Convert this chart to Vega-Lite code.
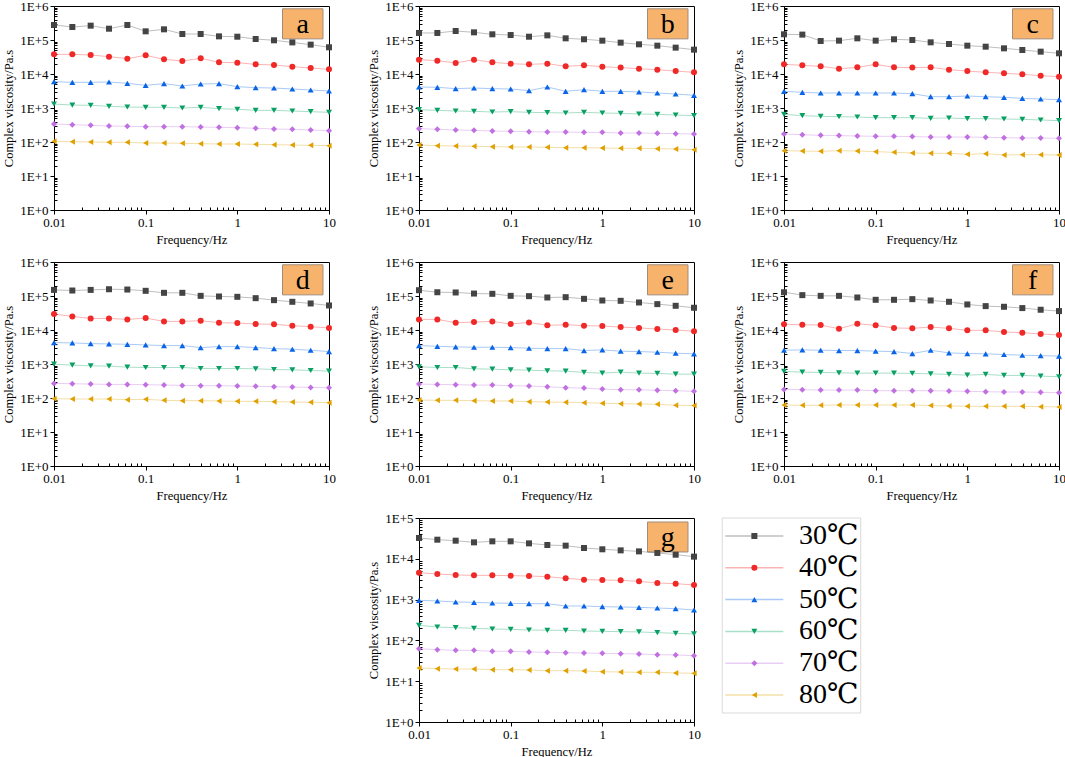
{
  "$schema": "https://vega.github.io/schema/vega-lite/v6.json",
  "background": "white",
  "padding": {"left": 2, "top": -1, "right": 0, "bottom": 0},
  "columns": 3,
  "bounds": "flush",
  "spacing": {"row": 52, "column": 90},
  "config": {
    "font": "Liberation Serif, DejaVu Serif, serif",
    "view": {"stroke": "black", "strokeWidth": 1},
    "text": {"font": "Liberation Serif, DejaVu Serif, serif"},
    "axis": {"grid": false, "domainColor": "black", "domainWidth": 1, "tickColor": "black", "tickWidth": 1, "labelColor": "black", "labelFont": "Liberation Serif, DejaVu Serif, serif", "labelFontSize": 13, "labelPadding": 2, "labelOverlap": false, "titleFont": "Liberation Serif, DejaVu Serif, serif", "titleFontSize": 12.5, "titleFontWeight": "normal", "titleColor": "black", "titlePadding": 4},
    "axisX": {"labelFlush": false}
  },
  "datasets": {
    "visc": [
      {"p":"a","t":30,"f":0.01,"v":276000},{"p":"a","t":30,"f":0.01585,"v":241000},{"p":"a","t":30,"f":0.02512,"v":264000},{"p":"a","t":30,"f":0.03981,"v":215000},{"p":"a","t":30,"f":0.0631,"v":276000},{"p":"a","t":30,"f":0.1,"v":180000},{"p":"a","t":30,"f":0.1585,"v":206000},{"p":"a","t":30,"f":0.2512,"v":150000},{"p":"a","t":30,"f":0.3981,"v":150000},{"p":"a","t":30,"f":0.631,"v":128000},{"p":"a","t":30,"f":1,"v":125000},{"p":"a","t":30,"f":1.585,"v":107000},{"p":"a","t":30,"f":2.512,"v":98000},{"p":"a","t":30,"f":3.981,"v":85000},{"p":"a","t":30,"f":6.31,"v":73000},{"p":"a","t":30,"f":10,"v":61000},
      {"p":"a","t":40,"f":0.01,"v":37800},{"p":"a","t":40,"f":0.01585,"v":37800},{"p":"a","t":40,"f":0.02512,"v":36200},{"p":"a","t":40,"f":0.03981,"v":32400},{"p":"a","t":40,"f":0.0631,"v":28300},{"p":"a","t":40,"f":0.1,"v":35400},{"p":"a","t":40,"f":0.1585,"v":27000},{"p":"a","t":40,"f":0.2512,"v":24100},{"p":"a","t":40,"f":0.3981,"v":28900},{"p":"a","t":40,"f":0.631,"v":22000},{"p":"a","t":40,"f":1,"v":21500},{"p":"a","t":40,"f":1.585,"v":19200},{"p":"a","t":40,"f":2.512,"v":18400},{"p":"a","t":40,"f":3.981,"v":16400},{"p":"a","t":40,"f":6.31,"v":15000},{"p":"a","t":40,"f":10,"v":13700},
      {"p":"a","t":50,"f":0.01,"v":5960},{"p":"a","t":50,"f":0.01585,"v":5690},{"p":"a","t":50,"f":0.02512,"v":5690},{"p":"a","t":50,"f":0.03981,"v":5820},{"p":"a","t":50,"f":0.0631,"v":5310},{"p":"a","t":50,"f":0.1,"v":4640},{"p":"a","t":50,"f":0.1585,"v":5200},{"p":"a","t":50,"f":0.2512,"v":4440},{"p":"a","t":50,"f":0.3981,"v":5080},{"p":"a","t":50,"f":0.631,"v":5200},{"p":"a","t":50,"f":1,"v":4240},{"p":"a","t":50,"f":1.585,"v":3960},{"p":"a","t":50,"f":2.512,"v":3870},{"p":"a","t":50,"f":3.981,"v":3620},{"p":"a","t":50,"f":6.31,"v":3380},{"p":"a","t":50,"f":10,"v":3160},
      {"p":"a","t":60,"f":0.01,"v":1310},{"p":"a","t":60,"f":0.01585,"v":1220},{"p":"a","t":60,"f":0.02512,"v":1200},{"p":"a","t":60,"f":0.03981,"v":1120},{"p":"a","t":60,"f":0.0631,"v":1070},{"p":"a","t":60,"f":0.1,"v":1050},{"p":"a","t":60,"f":0.1585,"v":1050},{"p":"a","t":60,"f":0.2512,"v":1000},{"p":"a","t":60,"f":0.3981,"v":1050},{"p":"a","t":60,"f":0.631,"v":955},{"p":"a","t":60,"f":1,"v":914},{"p":"a","t":60,"f":1.585,"v":853},{"p":"a","t":60,"f":2.512,"v":853},{"p":"a","t":60,"f":3.981,"v":816},{"p":"a","t":60,"f":6.31,"v":780},{"p":"a","t":60,"f":10,"v":746},
      {"p":"a","t":70,"f":0.01,"v":338},{"p":"a","t":70,"f":0.01585,"v":324},{"p":"a","t":70,"f":0.02512,"v":309},{"p":"a","t":70,"f":0.03981,"v":296},{"p":"a","t":70,"f":0.0631,"v":289},{"p":"a","t":70,"f":0.1,"v":283},{"p":"a","t":70,"f":0.1585,"v":283},{"p":"a","t":70,"f":0.2512,"v":283},{"p":"a","t":70,"f":0.3981,"v":276},{"p":"a","t":70,"f":0.631,"v":270},{"p":"a","t":70,"f":1,"v":264},{"p":"a","t":70,"f":1.585,"v":252},{"p":"a","t":70,"f":2.512,"v":241},{"p":"a","t":70,"f":3.981,"v":236},{"p":"a","t":70,"f":6.31,"v":225},{"p":"a","t":70,"f":10,"v":215},
      {"p":"a","t":80,"f":0.01,"v":105},{"p":"a","t":80,"f":0.01585,"v":102},{"p":"a","t":80,"f":0.02512,"v":100},{"p":"a","t":80,"f":0.03981,"v":97.8},{"p":"a","t":80,"f":0.0631,"v":97.8},{"p":"a","t":80,"f":0.1,"v":93.5},{"p":"a","t":80,"f":0.1585,"v":93.5},{"p":"a","t":80,"f":0.2512,"v":91.4},{"p":"a","t":80,"f":0.3981,"v":89.3},{"p":"a","t":80,"f":0.631,"v":87.3},{"p":"a","t":80,"f":1,"v":87.3},{"p":"a","t":80,"f":1.585,"v":85.3},{"p":"a","t":80,"f":2.512,"v":83.5},{"p":"a","t":80,"f":3.981,"v":81.6},{"p":"a","t":80,"f":6.31,"v":79.8},{"p":"a","t":80,"f":10,"v":78},
      {"p":"b","t":30,"f":0.01,"v":161000},{"p":"b","t":30,"f":0.01585,"v":161000},{"p":"b","t":30,"f":0.02512,"v":184000},{"p":"b","t":30,"f":0.03981,"v":168000},{"p":"b","t":30,"f":0.0631,"v":147000},{"p":"b","t":30,"f":0.1,"v":140000},{"p":"b","t":30,"f":0.1585,"v":125000},{"p":"b","t":30,"f":0.2512,"v":137000},{"p":"b","t":30,"f":0.3981,"v":112000},{"p":"b","t":30,"f":0.631,"v":105000},{"p":"b","t":30,"f":1,"v":95600},{"p":"b","t":30,"f":1.585,"v":83500},{"p":"b","t":30,"f":2.512,"v":74600},{"p":"b","t":30,"f":3.981,"v":68100},{"p":"b","t":30,"f":6.31,"v":59600},{"p":"b","t":30,"f":10,"v":52000},
      {"p":"b","t":40,"f":0.01,"v":26400},{"p":"b","t":40,"f":0.01585,"v":24700},{"p":"b","t":40,"f":0.02512,"v":21100},{"p":"b","t":40,"f":0.03981,"v":26400},{"p":"b","t":40,"f":0.0631,"v":22000},{"p":"b","t":40,"f":0.1,"v":20100},{"p":"b","t":40,"f":0.1585,"v":19200},{"p":"b","t":40,"f":0.2512,"v":20100},{"p":"b","t":40,"f":0.3981,"v":16800},{"p":"b","t":40,"f":0.631,"v":18000},{"p":"b","t":40,"f":1,"v":16400},{"p":"b","t":40,"f":1.585,"v":15400},{"p":"b","t":40,"f":2.512,"v":14300},{"p":"b","t":40,"f":3.981,"v":13400},{"p":"b","t":40,"f":6.31,"v":12200},{"p":"b","t":40,"f":10,"v":11200},
      {"p":"b","t":50,"f":0.01,"v":4150},{"p":"b","t":50,"f":0.01585,"v":4060},{"p":"b","t":50,"f":0.02512,"v":3710},{"p":"b","t":50,"f":0.03981,"v":3870},{"p":"b","t":50,"f":0.0631,"v":3710},{"p":"b","t":50,"f":0.1,"v":3620},{"p":"b","t":50,"f":0.1585,"v":3240},{"p":"b","t":50,"f":0.2512,"v":4150},{"p":"b","t":50,"f":0.3981,"v":3090},{"p":"b","t":50,"f":0.631,"v":3460},{"p":"b","t":50,"f":1,"v":3090},{"p":"b","t":50,"f":1.585,"v":3090},{"p":"b","t":50,"f":2.512,"v":2960},{"p":"b","t":50,"f":3.981,"v":2760},{"p":"b","t":50,"f":6.31,"v":2580},{"p":"b","t":50,"f":10,"v":2360},
      {"p":"b","t":60,"f":0.01,"v":893},{"p":"b","t":60,"f":0.01585,"v":853},{"p":"b","t":60,"f":0.02512,"v":816},{"p":"b","t":60,"f":0.03981,"v":798},{"p":"b","t":60,"f":0.0631,"v":762},{"p":"b","t":60,"f":0.1,"v":780},{"p":"b","t":60,"f":0.1585,"v":746},{"p":"b","t":60,"f":0.2512,"v":729},{"p":"b","t":60,"f":0.3981,"v":713},{"p":"b","t":60,"f":0.631,"v":746},{"p":"b","t":60,"f":1,"v":713},{"p":"b","t":60,"f":1.585,"v":697},{"p":"b","t":60,"f":2.512,"v":667},{"p":"b","t":60,"f":3.981,"v":652},{"p":"b","t":60,"f":6.31,"v":622},{"p":"b","t":60,"f":10,"v":596},
      {"p":"b","t":70,"f":0.01,"v":247},{"p":"b","t":70,"f":0.01585,"v":236},{"p":"b","t":70,"f":0.02512,"v":225},{"p":"b","t":70,"f":0.03981,"v":220},{"p":"b","t":70,"f":0.0631,"v":211},{"p":"b","t":70,"f":0.1,"v":206},{"p":"b","t":70,"f":0.1585,"v":201},{"p":"b","t":70,"f":0.2512,"v":197},{"p":"b","t":70,"f":0.3981,"v":197},{"p":"b","t":70,"f":0.631,"v":192},{"p":"b","t":70,"f":1,"v":192},{"p":"b","t":70,"f":1.585,"v":184},{"p":"b","t":70,"f":2.512,"v":184},{"p":"b","t":70,"f":3.981,"v":180},{"p":"b","t":70,"f":6.31,"v":176},{"p":"b","t":70,"f":10,"v":172},
      {"p":"b","t":80,"f":0.01,"v":81.6},{"p":"b","t":80,"f":0.01585,"v":78},{"p":"b","t":80,"f":0.02512,"v":76.2},{"p":"b","t":80,"f":0.03981,"v":74.6},{"p":"b","t":80,"f":0.0631,"v":72.9},{"p":"b","t":80,"f":0.1,"v":71.3},{"p":"b","t":80,"f":0.1585,"v":71.3},{"p":"b","t":80,"f":0.2512,"v":69.7},{"p":"b","t":80,"f":0.3981,"v":68.1},{"p":"b","t":80,"f":0.631,"v":68.1},{"p":"b","t":80,"f":1,"v":66.7},{"p":"b","t":80,"f":1.585,"v":65.2},{"p":"b","t":80,"f":2.512,"v":65.2},{"p":"b","t":80,"f":3.981,"v":63.7},{"p":"b","t":80,"f":6.31,"v":62.2},{"p":"b","t":80,"f":10,"v":59.6},
      {"p":"c","t":30,"f":0.01,"v":147000},{"p":"c","t":30,"f":0.01585,"v":144000},{"p":"c","t":30,"f":0.02512,"v":93500},{"p":"c","t":30,"f":0.03981,"v":95600},{"p":"c","t":30,"f":0.0631,"v":112000},{"p":"c","t":30,"f":0.1,"v":95600},{"p":"c","t":30,"f":0.1585,"v":105000},{"p":"c","t":30,"f":0.2512,"v":100000},{"p":"c","t":30,"f":0.3981,"v":85400},{"p":"c","t":30,"f":0.631,"v":76200},{"p":"c","t":30,"f":1,"v":68100},{"p":"c","t":30,"f":1.585,"v":63600},{"p":"c","t":30,"f":2.512,"v":56900},{"p":"c","t":30,"f":3.981,"v":50800},{"p":"c","t":30,"f":6.31,"v":45400},{"p":"c","t":30,"f":10,"v":40600},
      {"p":"c","t":40,"f":0.01,"v":19200},{"p":"c","t":40,"f":0.01585,"v":18000},{"p":"c","t":40,"f":0.02512,"v":16800},{"p":"c","t":40,"f":0.03981,"v":14300},{"p":"c","t":40,"f":0.0631,"v":15700},{"p":"c","t":40,"f":0.1,"v":19200},{"p":"c","t":40,"f":0.1585,"v":15700},{"p":"c","t":40,"f":0.2512,"v":15400},{"p":"c","t":40,"f":0.3981,"v":15700},{"p":"c","t":40,"f":0.631,"v":13400},{"p":"c","t":40,"f":1,"v":12200},{"p":"c","t":40,"f":1.585,"v":11200},{"p":"c","t":40,"f":2.512,"v":10500},{"p":"c","t":40,"f":3.981,"v":9780},{"p":"c","t":40,"f":6.31,"v":8930},{"p":"c","t":40,"f":10,"v":8350},
      {"p":"c","t":50,"f":0.01,"v":3090},{"p":"c","t":50,"f":0.01585,"v":2890},{"p":"c","t":50,"f":0.02512,"v":2760},{"p":"c","t":50,"f":0.03981,"v":2760},{"p":"c","t":50,"f":0.0631,"v":2760},{"p":"c","t":50,"f":0.1,"v":2760},{"p":"c","t":50,"f":0.1585,"v":2760},{"p":"c","t":50,"f":0.2512,"v":2640},{"p":"c","t":50,"f":0.3981,"v":2150},{"p":"c","t":50,"f":0.631,"v":2150},{"p":"c","t":50,"f":1,"v":2250},{"p":"c","t":50,"f":1.585,"v":2150},{"p":"c","t":50,"f":2.512,"v":2060},{"p":"c","t":50,"f":3.981,"v":1920},{"p":"c","t":50,"f":6.31,"v":1840},{"p":"c","t":50,"f":10,"v":1760},
      {"p":"c","t":60,"f":0.01,"v":652},{"p":"c","t":60,"f":0.01585,"v":596},{"p":"c","t":60,"f":0.02512,"v":569},{"p":"c","t":60,"f":0.03981,"v":556},{"p":"c","t":60,"f":0.0631,"v":543},{"p":"c","t":60,"f":0.1,"v":520},{"p":"c","t":60,"f":0.1585,"v":520},{"p":"c","t":60,"f":0.2512,"v":520},{"p":"c","t":60,"f":0.3981,"v":497},{"p":"c","t":60,"f":0.631,"v":508},{"p":"c","t":60,"f":1,"v":486},{"p":"c","t":60,"f":1.585,"v":486},{"p":"c","t":60,"f":2.512,"v":475},{"p":"c","t":60,"f":3.981,"v":464},{"p":"c","t":60,"f":6.31,"v":444},{"p":"c","t":60,"f":10,"v":424},
      {"p":"c","t":70,"f":0.01,"v":172},{"p":"c","t":70,"f":0.01585,"v":164},{"p":"c","t":70,"f":0.02512,"v":157},{"p":"c","t":70,"f":0.03981,"v":154},{"p":"c","t":70,"f":0.0631,"v":150},{"p":"c","t":70,"f":0.1,"v":147},{"p":"c","t":70,"f":0.1585,"v":147},{"p":"c","t":70,"f":0.2512,"v":144},{"p":"c","t":70,"f":0.3981,"v":140},{"p":"c","t":70,"f":0.631,"v":140},{"p":"c","t":70,"f":1,"v":140},{"p":"c","t":70,"f":1.585,"v":137},{"p":"c","t":70,"f":2.512,"v":134},{"p":"c","t":70,"f":3.981,"v":131},{"p":"c","t":70,"f":6.31,"v":131},{"p":"c","t":70,"f":10,"v":128},
      {"p":"c","t":80,"f":0.01,"v":55.6},{"p":"c","t":80,"f":0.01585,"v":54.3},{"p":"c","t":80,"f":0.02512,"v":53.1},{"p":"c","t":80,"f":0.03981,"v":55.6},{"p":"c","t":80,"f":0.0631,"v":54.3},{"p":"c","t":80,"f":0.1,"v":52},{"p":"c","t":80,"f":0.1585,"v":49.7},{"p":"c","t":80,"f":0.2512,"v":47.5},{"p":"c","t":80,"f":0.3981,"v":46.4},{"p":"c","t":80,"f":0.631,"v":46.4},{"p":"c","t":80,"f":1,"v":43.3},{"p":"c","t":80,"f":1.585,"v":45.4},{"p":"c","t":80,"f":2.512,"v":41.5},{"p":"c","t":80,"f":3.981,"v":42.4},{"p":"c","t":80,"f":6.31,"v":42.4},{"p":"c","t":80,"f":10,"v":41.5},
      {"p":"d","t":30,"f":0.01,"v":151000},{"p":"d","t":30,"f":0.01585,"v":145000},{"p":"d","t":30,"f":0.02512,"v":151000},{"p":"d","t":30,"f":0.03981,"v":158000},{"p":"d","t":30,"f":0.0631,"v":155000},{"p":"d","t":30,"f":0.1,"v":142000},{"p":"d","t":30,"f":0.1585,"v":124000},{"p":"d","t":30,"f":0.2512,"v":124000},{"p":"d","t":30,"f":0.3981,"v":101000},{"p":"d","t":30,"f":0.631,"v":96700},{"p":"d","t":30,"f":1,"v":94600},{"p":"d","t":30,"f":1.585,"v":86400},{"p":"d","t":30,"f":2.512,"v":75500},{"p":"d","t":30,"f":3.981,"v":67500},{"p":"d","t":30,"f":6.31,"v":60300},{"p":"d","t":30,"f":10,"v":52700},
      {"p":"d","t":40,"f":0.01,"v":29400},{"p":"d","t":40,"f":0.01585,"v":25100},{"p":"d","t":40,"f":0.02512,"v":21900},{"p":"d","t":40,"f":0.03981,"v":21900},{"p":"d","t":40,"f":0.0631,"v":20500},{"p":"d","t":40,"f":0.1,"v":22400},{"p":"d","t":40,"f":0.1585,"v":17900},{"p":"d","t":40,"f":0.2512,"v":17900},{"p":"d","t":40,"f":0.3981,"v":18800},{"p":"d","t":40,"f":0.631,"v":16400},{"p":"d","t":40,"f":1,"v":16000},{"p":"d","t":40,"f":1.585,"v":15000},{"p":"d","t":40,"f":2.512,"v":14700},{"p":"d","t":40,"f":3.981,"v":13400},{"p":"d","t":40,"f":6.31,"v":12500},{"p":"d","t":40,"f":10,"v":11500},
      {"p":"d","t":50,"f":0.01,"v":4260},{"p":"d","t":50,"f":0.01585,"v":4170},{"p":"d","t":50,"f":0.02512,"v":3980},{"p":"d","t":50,"f":0.03981,"v":3890},{"p":"d","t":50,"f":0.0631,"v":3800},{"p":"d","t":50,"f":0.1,"v":3640},{"p":"d","t":50,"f":0.1585,"v":3480},{"p":"d","t":50,"f":0.2512,"v":3480},{"p":"d","t":50,"f":0.3981,"v":3040},{"p":"d","t":50,"f":0.631,"v":3250},{"p":"d","t":50,"f":1,"v":3250},{"p":"d","t":50,"f":1.585,"v":3040},{"p":"d","t":50,"f":2.512,"v":2840},{"p":"d","t":50,"f":3.981,"v":2720},{"p":"d","t":50,"f":6.31,"v":2540},{"p":"d","t":50,"f":10,"v":2320},
      {"p":"d","t":60,"f":0.01,"v":988},{"p":"d","t":60,"f":0.01585,"v":924},{"p":"d","t":60,"f":0.02512,"v":884},{"p":"d","t":60,"f":0.03981,"v":864},{"p":"d","t":60,"f":0.0631,"v":807},{"p":"d","t":60,"f":0.1,"v":790},{"p":"d","t":60,"f":0.1585,"v":790},{"p":"d","t":60,"f":0.2512,"v":790},{"p":"d","t":60,"f":0.3981,"v":738},{"p":"d","t":60,"f":0.631,"v":738},{"p":"d","t":60,"f":1,"v":738},{"p":"d","t":60,"f":1.585,"v":722},{"p":"d","t":60,"f":2.512,"v":690},{"p":"d","t":60,"f":3.981,"v":675},{"p":"d","t":60,"f":6.31,"v":645},{"p":"d","t":60,"f":10,"v":617},
      {"p":"d","t":70,"f":0.01,"v":269},{"p":"d","t":70,"f":0.01585,"v":263},{"p":"d","t":70,"f":0.02512,"v":257},{"p":"d","t":70,"f":0.03981,"v":251},{"p":"d","t":70,"f":0.0631,"v":251},{"p":"d","t":70,"f":0.1,"v":246},{"p":"d","t":70,"f":0.1585,"v":240},{"p":"d","t":70,"f":0.2512,"v":235},{"p":"d","t":70,"f":0.3981,"v":230},{"p":"d","t":70,"f":0.631,"v":230},{"p":"d","t":70,"f":1,"v":225},{"p":"d","t":70,"f":1.585,"v":220},{"p":"d","t":70,"f":2.512,"v":215},{"p":"d","t":70,"f":3.981,"v":210},{"p":"d","t":70,"f":6.31,"v":205},{"p":"d","t":70,"f":10,"v":201},
      {"p":"d","t":80,"f":0.01,"v":95.5},{"p":"d","t":80,"f":0.01585,"v":93.4},{"p":"d","t":80,"f":0.02512,"v":93.4},{"p":"d","t":80,"f":0.03981,"v":93.4},{"p":"d","t":80,"f":0.0631,"v":89.3},{"p":"d","t":80,"f":0.1,"v":91.3},{"p":"d","t":80,"f":0.1585,"v":85.4},{"p":"d","t":80,"f":0.2512,"v":83.5},{"p":"d","t":80,"f":0.3981,"v":83.5},{"p":"d","t":80,"f":0.631,"v":81.7},{"p":"d","t":80,"f":1,"v":79.8},{"p":"d","t":80,"f":1.585,"v":79.8},{"p":"d","t":80,"f":2.512,"v":78.1},{"p":"d","t":80,"f":3.981,"v":76.4},{"p":"d","t":80,"f":6.31,"v":74.7},{"p":"d","t":80,"f":10,"v":73},
      {"p":"e","t":30,"f":0.01,"v":148000},{"p":"e","t":30,"f":0.01585,"v":129000},{"p":"e","t":30,"f":0.02512,"v":127000},{"p":"e","t":30,"f":0.03981,"v":118000},{"p":"e","t":30,"f":0.0631,"v":116000},{"p":"e","t":30,"f":0.1,"v":101000},{"p":"e","t":30,"f":0.1585,"v":98900},{"p":"e","t":30,"f":0.2512,"v":90400},{"p":"e","t":30,"f":0.3981,"v":92400},{"p":"e","t":30,"f":0.631,"v":82600},{"p":"e","t":30,"f":1,"v":73800},{"p":"e","t":30,"f":1.585,"v":72200},{"p":"e","t":30,"f":2.512,"v":64500},{"p":"e","t":30,"f":3.981,"v":57700},{"p":"e","t":30,"f":6.31,"v":51500},{"p":"e","t":30,"f":10,"v":45100},
      {"p":"e","t":40,"f":0.01,"v":20500},{"p":"e","t":40,"f":0.01585,"v":20500},{"p":"e","t":40,"f":0.02512,"v":16400},{"p":"e","t":40,"f":0.03981,"v":17100},{"p":"e","t":40,"f":0.0631,"v":17900},{"p":"e","t":40,"f":0.1,"v":15000},{"p":"e","t":40,"f":0.1585,"v":16700},{"p":"e","t":40,"f":0.2512,"v":13700},{"p":"e","t":40,"f":0.3981,"v":14300},{"p":"e","t":40,"f":0.631,"v":13400},{"p":"e","t":40,"f":1,"v":13100},{"p":"e","t":40,"f":1.585,"v":12200},{"p":"e","t":40,"f":2.512,"v":11500},{"p":"e","t":40,"f":3.981,"v":10700},{"p":"e","t":40,"f":6.31,"v":10000},{"p":"e","t":40,"f":10,"v":9140},
      {"p":"e","t":50,"f":0.01,"v":3480},{"p":"e","t":50,"f":0.01585,"v":3320},{"p":"e","t":50,"f":0.02512,"v":3180},{"p":"e","t":50,"f":0.03981,"v":3110},{"p":"e","t":50,"f":0.0631,"v":3110},{"p":"e","t":50,"f":0.1,"v":3040},{"p":"e","t":50,"f":0.1585,"v":2910},{"p":"e","t":50,"f":0.2512,"v":2840},{"p":"e","t":50,"f":0.3981,"v":2840},{"p":"e","t":50,"f":0.631,"v":2490},{"p":"e","t":50,"f":1,"v":2600},{"p":"e","t":50,"f":1.585,"v":2380},{"p":"e","t":50,"f":2.512,"v":2320},{"p":"e","t":50,"f":3.981,"v":2220},{"p":"e","t":50,"f":6.31,"v":2080},{"p":"e","t":50,"f":10,"v":1990},
      {"p":"e","t":60,"f":0.01,"v":826},{"p":"e","t":60,"f":0.01585,"v":790},{"p":"e","t":60,"f":0.02512,"v":790},{"p":"e","t":60,"f":0.03981,"v":722},{"p":"e","t":60,"f":0.0631,"v":706},{"p":"e","t":60,"f":0.1,"v":675},{"p":"e","t":60,"f":0.1585,"v":660},{"p":"e","t":60,"f":0.2512,"v":631},{"p":"e","t":60,"f":0.3981,"v":617},{"p":"e","t":60,"f":0.631,"v":564},{"p":"e","t":60,"f":1,"v":539},{"p":"e","t":60,"f":1.585,"v":577},{"p":"e","t":60,"f":2.512,"v":539},{"p":"e","t":60,"f":3.981,"v":527},{"p":"e","t":60,"f":6.31,"v":504},{"p":"e","t":60,"f":10,"v":504},
      {"p":"e","t":70,"f":0.01,"v":257},{"p":"e","t":70,"f":0.01585,"v":251},{"p":"e","t":70,"f":0.02512,"v":246},{"p":"e","t":70,"f":0.03981,"v":240},{"p":"e","t":70,"f":0.0631,"v":240},{"p":"e","t":70,"f":0.1,"v":230},{"p":"e","t":70,"f":0.1585,"v":225},{"p":"e","t":70,"f":0.2512,"v":215},{"p":"e","t":70,"f":0.3981,"v":201},{"p":"e","t":70,"f":0.631,"v":196},{"p":"e","t":70,"f":1,"v":183},{"p":"e","t":70,"f":1.585,"v":175},{"p":"e","t":70,"f":2.512,"v":175},{"p":"e","t":70,"f":3.981,"v":168},{"p":"e","t":70,"f":6.31,"v":164},{"p":"e","t":70,"f":10,"v":157},
      {"p":"e","t":80,"f":0.01,"v":87.3},{"p":"e","t":80,"f":0.01585,"v":85.4},{"p":"e","t":80,"f":0.02512,"v":85.4},{"p":"e","t":80,"f":0.03981,"v":83.5},{"p":"e","t":80,"f":0.0631,"v":81.7},{"p":"e","t":80,"f":0.1,"v":81.7},{"p":"e","t":80,"f":0.1585,"v":78.1},{"p":"e","t":80,"f":0.2512,"v":76.4},{"p":"e","t":80,"f":0.3981,"v":74.7},{"p":"e","t":80,"f":0.631,"v":73},{"p":"e","t":80,"f":1,"v":69.8},{"p":"e","t":80,"f":1.585,"v":68.2},{"p":"e","t":80,"f":2.512,"v":66.7},{"p":"e","t":80,"f":3.981,"v":65.3},{"p":"e","t":80,"f":6.31,"v":61},{"p":"e","t":80,"f":10,"v":59.7},
      {"p":"f","t":30,"f":0.01,"v":129000},{"p":"f","t":30,"f":0.01585,"v":106000},{"p":"f","t":30,"f":0.02512,"v":101000},{"p":"f","t":30,"f":0.03981,"v":101000},{"p":"f","t":30,"f":0.0631,"v":90400},{"p":"f","t":30,"f":0.1,"v":77300},{"p":"f","t":30,"f":0.1585,"v":77300},{"p":"f","t":30,"f":0.2512,"v":80800},{"p":"f","t":30,"f":0.3981,"v":73800},{"p":"f","t":30,"f":0.631,"v":67500},{"p":"f","t":30,"f":1,"v":56400},{"p":"f","t":30,"f":1.585,"v":50400},{"p":"f","t":30,"f":2.512,"v":48200},{"p":"f","t":30,"f":3.981,"v":44100},{"p":"f","t":30,"f":6.31,"v":39400},{"p":"f","t":30,"f":10,"v":36000},
      {"p":"f","t":40,"f":0.01,"v":14700},{"p":"f","t":40,"f":0.01585,"v":14300},{"p":"f","t":40,"f":0.02512,"v":14000},{"p":"f","t":40,"f":0.03981,"v":10900},{"p":"f","t":40,"f":0.0631,"v":15300},{"p":"f","t":40,"f":0.1,"v":13700},{"p":"f","t":40,"f":0.1585,"v":11500},{"p":"f","t":40,"f":0.2512,"v":11200},{"p":"f","t":40,"f":0.3981,"v":12200},{"p":"f","t":40,"f":0.631,"v":11200},{"p":"f","t":40,"f":1,"v":9780},{"p":"f","t":40,"f":1.585,"v":9780},{"p":"f","t":40,"f":2.512,"v":8740},{"p":"f","t":40,"f":3.981,"v":8350},{"p":"f","t":40,"f":6.31,"v":7640},{"p":"f","t":40,"f":10,"v":7140},
      {"p":"f","t":50,"f":0.01,"v":2540},{"p":"f","t":50,"f":0.01585,"v":2600},{"p":"f","t":50,"f":0.02512,"v":2540},{"p":"f","t":50,"f":0.03981,"v":2490},{"p":"f","t":50,"f":0.0631,"v":2490},{"p":"f","t":50,"f":0.1,"v":2380},{"p":"f","t":50,"f":0.1585,"v":2320},{"p":"f","t":50,"f":0.2512,"v":2030},{"p":"f","t":50,"f":0.3981,"v":2540},{"p":"f","t":50,"f":0.631,"v":2120},{"p":"f","t":50,"f":1,"v":2030},{"p":"f","t":50,"f":1.585,"v":1990},{"p":"f","t":50,"f":2.512,"v":1900},{"p":"f","t":50,"f":3.981,"v":1810},{"p":"f","t":50,"f":6.31,"v":1770},{"p":"f","t":50,"f":10,"v":1700},
      {"p":"f","t":60,"f":0.01,"v":603},{"p":"f","t":60,"f":0.01585,"v":577},{"p":"f","t":60,"f":0.02512,"v":564},{"p":"f","t":60,"f":0.03981,"v":551},{"p":"f","t":60,"f":0.0631,"v":539},{"p":"f","t":60,"f":0.1,"v":539},{"p":"f","t":60,"f":0.1585,"v":539},{"p":"f","t":60,"f":0.2512,"v":527},{"p":"f","t":60,"f":0.3981,"v":515},{"p":"f","t":60,"f":0.631,"v":493},{"p":"f","t":60,"f":1,"v":471},{"p":"f","t":60,"f":1.585,"v":493},{"p":"f","t":60,"f":2.512,"v":461},{"p":"f","t":60,"f":3.981,"v":461},{"p":"f","t":60,"f":6.31,"v":441},{"p":"f","t":60,"f":10,"v":421},
      {"p":"f","t":70,"f":0.01,"v":179},{"p":"f","t":70,"f":0.01585,"v":175},{"p":"f","t":70,"f":0.02512,"v":171},{"p":"f","t":70,"f":0.03981,"v":171},{"p":"f","t":70,"f":0.0631,"v":171},{"p":"f","t":70,"f":0.1,"v":164},{"p":"f","t":70,"f":0.1585,"v":164},{"p":"f","t":70,"f":0.2512,"v":164},{"p":"f","t":70,"f":0.3981,"v":164},{"p":"f","t":70,"f":0.631,"v":160},{"p":"f","t":70,"f":1,"v":157},{"p":"f","t":70,"f":1.585,"v":153},{"p":"f","t":70,"f":2.512,"v":150},{"p":"f","t":70,"f":3.981,"v":150},{"p":"f","t":70,"f":6.31,"v":147},{"p":"f","t":70,"f":10,"v":143},
      {"p":"f","t":80,"f":0.01,"v":62.4},{"p":"f","t":80,"f":0.01585,"v":61},{"p":"f","t":80,"f":0.02512,"v":61},{"p":"f","t":80,"f":0.03981,"v":62.4},{"p":"f","t":80,"f":0.0631,"v":62.4},{"p":"f","t":80,"f":0.1,"v":62.4},{"p":"f","t":80,"f":0.1585,"v":62.4},{"p":"f","t":80,"f":0.2512,"v":62.4},{"p":"f","t":80,"f":0.3981,"v":59.7},{"p":"f","t":80,"f":0.631,"v":58.3},{"p":"f","t":80,"f":1,"v":57},{"p":"f","t":80,"f":1.585,"v":57},{"p":"f","t":80,"f":2.512,"v":57},{"p":"f","t":80,"f":3.981,"v":57},{"p":"f","t":80,"f":6.31,"v":55.7},{"p":"f","t":80,"f":10,"v":54.5},
      {"p":"g","t":30,"f":0.01,"v":32400},{"p":"g","t":30,"f":0.01585,"v":29400},{"p":"g","t":30,"f":0.02512,"v":27800},{"p":"g","t":30,"f":0.03981,"v":25300},{"p":"g","t":30,"f":0.0631,"v":26800},{"p":"g","t":30,"f":0.1,"v":26800},{"p":"g","t":30,"f":0.1585,"v":23900},{"p":"g","t":30,"f":0.2512,"v":21800},{"p":"g","t":30,"f":0.3981,"v":21000},{"p":"g","t":30,"f":0.631,"v":18400},{"p":"g","t":30,"f":1,"v":17100},{"p":"g","t":30,"f":1.585,"v":16100},{"p":"g","t":30,"f":2.512,"v":15200},{"p":"g","t":30,"f":3.981,"v":13900},{"p":"g","t":30,"f":6.31,"v":12600},{"p":"g","t":30,"f":10,"v":11300},
      {"p":"g","t":40,"f":0.01,"v":4570},{"p":"g","t":40,"f":0.01585,"v":4240},{"p":"g","t":40,"f":0.02512,"v":4010},{"p":"g","t":40,"f":0.03981,"v":3930},{"p":"g","t":40,"f":0.0631,"v":3930},{"p":"g","t":40,"f":0.1,"v":3860},{"p":"g","t":40,"f":0.1585,"v":3790},{"p":"g","t":40,"f":0.2512,"v":3650},{"p":"g","t":40,"f":0.3981,"v":3320},{"p":"g","t":40,"f":0.631,"v":3080},{"p":"g","t":40,"f":1,"v":3020},{"p":"g","t":40,"f":1.585,"v":2970},{"p":"g","t":40,"f":2.512,"v":2800},{"p":"g","t":40,"f":3.981,"v":2550},{"p":"g","t":40,"f":6.31,"v":2460},{"p":"g","t":40,"f":10,"v":2280},
      {"p":"g","t":50,"f":0.01,"v":960},{"p":"g","t":50,"f":0.01585,"v":925},{"p":"g","t":50,"f":0.02512,"v":874},{"p":"g","t":50,"f":0.03981,"v":858},{"p":"g","t":50,"f":0.0631,"v":826},{"p":"g","t":50,"f":0.1,"v":810},{"p":"g","t":50,"f":0.1585,"v":795},{"p":"g","t":50,"f":0.2512,"v":795},{"p":"g","t":50,"f":0.3981,"v":697},{"p":"g","t":50,"f":0.631,"v":697},{"p":"g","t":50,"f":1,"v":671},{"p":"g","t":50,"f":1.585,"v":659},{"p":"g","t":50,"f":2.512,"v":646},{"p":"g","t":50,"f":3.981,"v":622},{"p":"g","t":50,"f":6.31,"v":600},{"p":"g","t":50,"f":10,"v":556},
      {"p":"g","t":60,"f":0.01,"v":234},{"p":"g","t":60,"f":0.01585,"v":213},{"p":"g","t":60,"f":0.02512,"v":205},{"p":"g","t":60,"f":0.03981,"v":198},{"p":"g","t":60,"f":0.0631,"v":190},{"p":"g","t":60,"f":0.1,"v":187},{"p":"g","t":60,"f":0.1585,"v":180},{"p":"g","t":60,"f":0.2512,"v":177},{"p":"g","t":60,"f":0.3981,"v":177},{"p":"g","t":60,"f":0.631,"v":170},{"p":"g","t":60,"f":1,"v":167},{"p":"g","t":60,"f":1.585,"v":164},{"p":"g","t":60,"f":2.512,"v":161},{"p":"g","t":60,"f":3.981,"v":155},{"p":"g","t":60,"f":6.31,"v":149},{"p":"g","t":60,"f":10,"v":144},
      {"p":"g","t":70,"f":0.01,"v":62.7},{"p":"g","t":70,"f":0.01585,"v":59.3},{"p":"g","t":70,"f":0.02512,"v":57.1},{"p":"g","t":70,"f":0.03981,"v":57.1},{"p":"g","t":70,"f":0.0631,"v":54},{"p":"g","t":70,"f":0.1,"v":54},{"p":"g","t":70,"f":0.1585,"v":52},{"p":"g","t":70,"f":0.2512,"v":51.1},{"p":"g","t":70,"f":0.3981,"v":50.1},{"p":"g","t":70,"f":0.631,"v":49.1},{"p":"g","t":70,"f":1,"v":48.2},{"p":"g","t":70,"f":1.585,"v":47.3},{"p":"g","t":70,"f":2.512,"v":46.4},{"p":"g","t":70,"f":3.981,"v":44.7},{"p":"g","t":70,"f":6.31,"v":43.9},{"p":"g","t":70,"f":10,"v":42.3},
      {"p":"g","t":80,"f":0.01,"v":21.1},{"p":"g","t":80,"f":0.01585,"v":20.3},{"p":"g","t":80,"f":0.02512,"v":19.9},{"p":"g","t":80,"f":0.03981,"v":19.9},{"p":"g","t":80,"f":0.0631,"v":19.2},{"p":"g","t":80,"f":0.1,"v":19.2},{"p":"g","t":80,"f":0.1585,"v":18.8},{"p":"g","t":80,"f":0.2512,"v":18.1},{"p":"g","t":80,"f":0.3981,"v":18.1},{"p":"g","t":80,"f":0.631,"v":17.8},{"p":"g","t":80,"f":1,"v":17.1},{"p":"g","t":80,"f":1.585,"v":16.8},{"p":"g","t":80,"f":2.512,"v":16.5},{"p":"g","t":80,"f":3.981,"v":16.5},{"p":"g","t":80,"f":6.31,"v":15.9},{"p":"g","t":80,"f":10,"v":15.6}
    ]
  },
  "concat": [
    {
      "width": 275, "height": 204,
      "layer": [
        {"data": {"values": [{"lab": "a"}]}, "mark": {"type": "rect", "fill": "#F7B36B", "stroke": "#A08C7A", "strokeWidth": 1}, "encoding": {
          "x": {"datum": 3.11, "type": "quantitative", "scale": {"type": "log", "domain": [0.01, 10], "nice": false}, "axis": {"title": "Frequency/Hz", "values": [0.01,0.02,0.03,0.04,0.05,0.06,0.07,0.08,0.09,0.1,0.2,0.3,0.4,0.5,0.6,0.7,0.8,0.9,1,2,3,4,5,6,7,8,9,10], "format": "~g", "labelExpr": "abs(log(datum.value)/LN10-round(log(datum.value)/LN10))<0.001 ? datum.label : ''", "tickSize": {"condition": {"test": "abs(log(datum.value)/LN10-round(log(datum.value)/LN10))<0.001", "value": 4}, "value": -3}}},
          "x2": {"datum": 8.6},
          "y": {"datum": 828000, "type": "quantitative", "scale": {"type": "log", "domain": [1, 1000000], "nice": false}, "axis": {"title": "Complex viscosity/Pa.s", "values": [1,2,3,4,5,6,7,8,9,10,20,30,40,50,60,70,80,90,100,200,300,400,500,600,700,800,900,1000,2000,3000,4000,5000,6000,7000,8000,9000,10000,20000,30000,40000,50000,60000,70000,80000,90000,100000,200000,300000,400000,500000,600000,700000,800000,900000,1000000], "labelExpr": "abs(log(datum.value)/LN10-round(log(datum.value)/LN10))<0.001 ? '1E+' + round(log(datum.value)/LN10) : ''", "tickSize": {"condition": {"test": "abs(log(datum.value)/LN10-round(log(datum.value)/LN10))<0.001", "value": 4}, "value": -3}}},
          "y2": {"datum": 108000}}},
        {
          "data": {"name": "visc"}, "transform": [{"filter": "datum.p == 'a'"}],
          "encoding": {
            "x": {"field": "f", "type": "quantitative", "scale": {"type": "log", "domain": [0.01, 10], "nice": false}, "axis": {"title": "Frequency/Hz", "values": [0.01,0.02,0.03,0.04,0.05,0.06,0.07,0.08,0.09,0.1,0.2,0.3,0.4,0.5,0.6,0.7,0.8,0.9,1,2,3,4,5,6,7,8,9,10], "format": "~g", "labelExpr": "abs(log(datum.value)/LN10-round(log(datum.value)/LN10))<0.001 ? datum.label : ''", "tickSize": {"condition": {"test": "abs(log(datum.value)/LN10-round(log(datum.value)/LN10))<0.001", "value": 4}, "value": -3}}},
            "y": {"field": "v", "type": "quantitative", "scale": {"type": "log", "domain": [1, 1000000], "nice": false}, "axis": {"title": "Complex viscosity/Pa.s", "values": [1,2,3,4,5,6,7,8,9,10,20,30,40,50,60,70,80,90,100,200,300,400,500,600,700,800,900,1000,2000,3000,4000,5000,6000,7000,8000,9000,10000,20000,30000,40000,50000,60000,70000,80000,90000,100000,200000,300000,400000,500000,600000,700000,800000,900000,1000000], "labelExpr": "abs(log(datum.value)/LN10-round(log(datum.value)/LN10))<0.001 ? '1E+' + round(log(datum.value)/LN10) : ''", "tickSize": {"condition": {"test": "abs(log(datum.value)/LN10-round(log(datum.value)/LN10))<0.001", "value": 4}, "value": -3}}},
            "color": {"field": "t", "type": "nominal", "scale": {"domain": [30,40,50,60,70,80], "range": ["#444444","#f02828","#0a64e6","#0aa064","#c070e0","#e0a000"]}, "legend": null}
          },
          "layer": [
            {"mark": {"type": "line", "strokeWidth": 1, "opacity": 0.35}},
            {"mark": {"type": "point", "filled": true, "size": 36, "opacity": 1}, "encoding": {"shape": {"field": "t", "type": "nominal", "scale": {"domain": [30,40,50,60,70,80], "range": ["square","circle","triangle-up","triangle-down","diamond","triangle-left"]}, "legend": null}}}
          ]
        },
        {"data": {"values": [{"lab": "a"}]}, "mark": {"type": "text", "fontSize": 28, "baseline": "alphabetic", "dy": -5.5, "color": "black"}, "encoding": {
          "x": {"datum": 5.17, "type": "quantitative", "scale": {"type": "log", "domain": [0.01, 10], "nice": false}, "axis": {"title": "Frequency/Hz", "values": [0.01,0.02,0.03,0.04,0.05,0.06,0.07,0.08,0.09,0.1,0.2,0.3,0.4,0.5,0.6,0.7,0.8,0.9,1,2,3,4,5,6,7,8,9,10], "format": "~g", "labelExpr": "abs(log(datum.value)/LN10-round(log(datum.value)/LN10))<0.001 ? datum.label : ''", "tickSize": {"condition": {"test": "abs(log(datum.value)/LN10-round(log(datum.value)/LN10))<0.001", "value": 4}, "value": -3}}},
          "y": {"datum": 108000, "type": "quantitative", "scale": {"type": "log", "domain": [1, 1000000], "nice": false}, "axis": {"title": "Complex viscosity/Pa.s", "values": [1,2,3,4,5,6,7,8,9,10,20,30,40,50,60,70,80,90,100,200,300,400,500,600,700,800,900,1000,2000,3000,4000,5000,6000,7000,8000,9000,10000,20000,30000,40000,50000,60000,70000,80000,90000,100000,200000,300000,400000,500000,600000,700000,800000,900000,1000000], "labelExpr": "abs(log(datum.value)/LN10-round(log(datum.value)/LN10))<0.001 ? '1E+' + round(log(datum.value)/LN10) : ''", "tickSize": {"condition": {"test": "abs(log(datum.value)/LN10-round(log(datum.value)/LN10))<0.001", "value": 4}, "value": -3}}},
          "text": {"field": "lab"}}}
      ]
    },
    {
      "width": 275, "height": 204,
      "layer": [
        {"data": {"values": [{"lab": "b"}]}, "mark": {"type": "rect", "fill": "#F7B36B", "stroke": "#A08C7A", "strokeWidth": 1}, "encoding": {
          "x": {"datum": 3.11, "type": "quantitative", "scale": {"type": "log", "domain": [0.01, 10], "nice": false}, "axis": {"title": "Frequency/Hz", "values": [0.01,0.02,0.03,0.04,0.05,0.06,0.07,0.08,0.09,0.1,0.2,0.3,0.4,0.5,0.6,0.7,0.8,0.9,1,2,3,4,5,6,7,8,9,10], "format": "~g", "labelExpr": "abs(log(datum.value)/LN10-round(log(datum.value)/LN10))<0.001 ? datum.label : ''", "tickSize": {"condition": {"test": "abs(log(datum.value)/LN10-round(log(datum.value)/LN10))<0.001", "value": 4}, "value": -3}}},
          "x2": {"datum": 8.6},
          "y": {"datum": 828000, "type": "quantitative", "scale": {"type": "log", "domain": [1, 1000000], "nice": false}, "axis": {"title": "Complex viscosity/Pa.s", "values": [1,2,3,4,5,6,7,8,9,10,20,30,40,50,60,70,80,90,100,200,300,400,500,600,700,800,900,1000,2000,3000,4000,5000,6000,7000,8000,9000,10000,20000,30000,40000,50000,60000,70000,80000,90000,100000,200000,300000,400000,500000,600000,700000,800000,900000,1000000], "labelExpr": "abs(log(datum.value)/LN10-round(log(datum.value)/LN10))<0.001 ? '1E+' + round(log(datum.value)/LN10) : ''", "tickSize": {"condition": {"test": "abs(log(datum.value)/LN10-round(log(datum.value)/LN10))<0.001", "value": 4}, "value": -3}}},
          "y2": {"datum": 108000}}},
        {
          "data": {"name": "visc"}, "transform": [{"filter": "datum.p == 'b'"}],
          "encoding": {
            "x": {"field": "f", "type": "quantitative", "scale": {"type": "log", "domain": [0.01, 10], "nice": false}, "axis": {"title": "Frequency/Hz", "values": [0.01,0.02,0.03,0.04,0.05,0.06,0.07,0.08,0.09,0.1,0.2,0.3,0.4,0.5,0.6,0.7,0.8,0.9,1,2,3,4,5,6,7,8,9,10], "format": "~g", "labelExpr": "abs(log(datum.value)/LN10-round(log(datum.value)/LN10))<0.001 ? datum.label : ''", "tickSize": {"condition": {"test": "abs(log(datum.value)/LN10-round(log(datum.value)/LN10))<0.001", "value": 4}, "value": -3}}},
            "y": {"field": "v", "type": "quantitative", "scale": {"type": "log", "domain": [1, 1000000], "nice": false}, "axis": {"title": "Complex viscosity/Pa.s", "values": [1,2,3,4,5,6,7,8,9,10,20,30,40,50,60,70,80,90,100,200,300,400,500,600,700,800,900,1000,2000,3000,4000,5000,6000,7000,8000,9000,10000,20000,30000,40000,50000,60000,70000,80000,90000,100000,200000,300000,400000,500000,600000,700000,800000,900000,1000000], "labelExpr": "abs(log(datum.value)/LN10-round(log(datum.value)/LN10))<0.001 ? '1E+' + round(log(datum.value)/LN10) : ''", "tickSize": {"condition": {"test": "abs(log(datum.value)/LN10-round(log(datum.value)/LN10))<0.001", "value": 4}, "value": -3}}},
            "color": {"field": "t", "type": "nominal", "scale": {"domain": [30,40,50,60,70,80], "range": ["#444444","#f02828","#0a64e6","#0aa064","#c070e0","#e0a000"]}, "legend": null}
          },
          "layer": [
            {"mark": {"type": "line", "strokeWidth": 1, "opacity": 0.35}},
            {"mark": {"type": "point", "filled": true, "size": 36, "opacity": 1}, "encoding": {"shape": {"field": "t", "type": "nominal", "scale": {"domain": [30,40,50,60,70,80], "range": ["square","circle","triangle-up","triangle-down","diamond","triangle-left"]}, "legend": null}}}
          ]
        },
        {"data": {"values": [{"lab": "b"}]}, "mark": {"type": "text", "fontSize": 28, "baseline": "alphabetic", "dy": -5.5, "color": "black"}, "encoding": {
          "x": {"datum": 5.17, "type": "quantitative", "scale": {"type": "log", "domain": [0.01, 10], "nice": false}, "axis": {"title": "Frequency/Hz", "values": [0.01,0.02,0.03,0.04,0.05,0.06,0.07,0.08,0.09,0.1,0.2,0.3,0.4,0.5,0.6,0.7,0.8,0.9,1,2,3,4,5,6,7,8,9,10], "format": "~g", "labelExpr": "abs(log(datum.value)/LN10-round(log(datum.value)/LN10))<0.001 ? datum.label : ''", "tickSize": {"condition": {"test": "abs(log(datum.value)/LN10-round(log(datum.value)/LN10))<0.001", "value": 4}, "value": -3}}},
          "y": {"datum": 108000, "type": "quantitative", "scale": {"type": "log", "domain": [1, 1000000], "nice": false}, "axis": {"title": "Complex viscosity/Pa.s", "values": [1,2,3,4,5,6,7,8,9,10,20,30,40,50,60,70,80,90,100,200,300,400,500,600,700,800,900,1000,2000,3000,4000,5000,6000,7000,8000,9000,10000,20000,30000,40000,50000,60000,70000,80000,90000,100000,200000,300000,400000,500000,600000,700000,800000,900000,1000000], "labelExpr": "abs(log(datum.value)/LN10-round(log(datum.value)/LN10))<0.001 ? '1E+' + round(log(datum.value)/LN10) : ''", "tickSize": {"condition": {"test": "abs(log(datum.value)/LN10-round(log(datum.value)/LN10))<0.001", "value": 4}, "value": -3}}},
          "text": {"field": "lab"}}}
      ]
    },
    {
      "width": 275, "height": 204,
      "layer": [
        {"data": {"values": [{"lab": "c"}]}, "mark": {"type": "rect", "fill": "#F7B36B", "stroke": "#A08C7A", "strokeWidth": 1}, "encoding": {
          "x": {"datum": 3.11, "type": "quantitative", "scale": {"type": "log", "domain": [0.01, 10], "nice": false}, "axis": {"title": "Frequency/Hz", "values": [0.01,0.02,0.03,0.04,0.05,0.06,0.07,0.08,0.09,0.1,0.2,0.3,0.4,0.5,0.6,0.7,0.8,0.9,1,2,3,4,5,6,7,8,9,10], "format": "~g", "labelExpr": "abs(log(datum.value)/LN10-round(log(datum.value)/LN10))<0.001 ? datum.label : ''", "tickSize": {"condition": {"test": "abs(log(datum.value)/LN10-round(log(datum.value)/LN10))<0.001", "value": 4}, "value": -3}}},
          "x2": {"datum": 8.6},
          "y": {"datum": 828000, "type": "quantitative", "scale": {"type": "log", "domain": [1, 1000000], "nice": false}, "axis": {"title": "Complex viscosity/Pa.s", "values": [1,2,3,4,5,6,7,8,9,10,20,30,40,50,60,70,80,90,100,200,300,400,500,600,700,800,900,1000,2000,3000,4000,5000,6000,7000,8000,9000,10000,20000,30000,40000,50000,60000,70000,80000,90000,100000,200000,300000,400000,500000,600000,700000,800000,900000,1000000], "labelExpr": "abs(log(datum.value)/LN10-round(log(datum.value)/LN10))<0.001 ? '1E+' + round(log(datum.value)/LN10) : ''", "tickSize": {"condition": {"test": "abs(log(datum.value)/LN10-round(log(datum.value)/LN10))<0.001", "value": 4}, "value": -3}}},
          "y2": {"datum": 108000}}},
        {
          "data": {"name": "visc"}, "transform": [{"filter": "datum.p == 'c'"}],
          "encoding": {
            "x": {"field": "f", "type": "quantitative", "scale": {"type": "log", "domain": [0.01, 10], "nice": false}, "axis": {"title": "Frequency/Hz", "values": [0.01,0.02,0.03,0.04,0.05,0.06,0.07,0.08,0.09,0.1,0.2,0.3,0.4,0.5,0.6,0.7,0.8,0.9,1,2,3,4,5,6,7,8,9,10], "format": "~g", "labelExpr": "abs(log(datum.value)/LN10-round(log(datum.value)/LN10))<0.001 ? datum.label : ''", "tickSize": {"condition": {"test": "abs(log(datum.value)/LN10-round(log(datum.value)/LN10))<0.001", "value": 4}, "value": -3}}},
            "y": {"field": "v", "type": "quantitative", "scale": {"type": "log", "domain": [1, 1000000], "nice": false}, "axis": {"title": "Complex viscosity/Pa.s", "values": [1,2,3,4,5,6,7,8,9,10,20,30,40,50,60,70,80,90,100,200,300,400,500,600,700,800,900,1000,2000,3000,4000,5000,6000,7000,8000,9000,10000,20000,30000,40000,50000,60000,70000,80000,90000,100000,200000,300000,400000,500000,600000,700000,800000,900000,1000000], "labelExpr": "abs(log(datum.value)/LN10-round(log(datum.value)/LN10))<0.001 ? '1E+' + round(log(datum.value)/LN10) : ''", "tickSize": {"condition": {"test": "abs(log(datum.value)/LN10-round(log(datum.value)/LN10))<0.001", "value": 4}, "value": -3}}},
            "color": {"field": "t", "type": "nominal", "scale": {"domain": [30,40,50,60,70,80], "range": ["#444444","#f02828","#0a64e6","#0aa064","#c070e0","#e0a000"]}, "legend": null}
          },
          "layer": [
            {"mark": {"type": "line", "strokeWidth": 1, "opacity": 0.35}},
            {"mark": {"type": "point", "filled": true, "size": 36, "opacity": 1}, "encoding": {"shape": {"field": "t", "type": "nominal", "scale": {"domain": [30,40,50,60,70,80], "range": ["square","circle","triangle-up","triangle-down","diamond","triangle-left"]}, "legend": null}}}
          ]
        },
        {"data": {"values": [{"lab": "c"}]}, "mark": {"type": "text", "fontSize": 28, "baseline": "alphabetic", "dy": -5.5, "color": "black"}, "encoding": {
          "x": {"datum": 5.17, "type": "quantitative", "scale": {"type": "log", "domain": [0.01, 10], "nice": false}, "axis": {"title": "Frequency/Hz", "values": [0.01,0.02,0.03,0.04,0.05,0.06,0.07,0.08,0.09,0.1,0.2,0.3,0.4,0.5,0.6,0.7,0.8,0.9,1,2,3,4,5,6,7,8,9,10], "format": "~g", "labelExpr": "abs(log(datum.value)/LN10-round(log(datum.value)/LN10))<0.001 ? datum.label : ''", "tickSize": {"condition": {"test": "abs(log(datum.value)/LN10-round(log(datum.value)/LN10))<0.001", "value": 4}, "value": -3}}},
          "y": {"datum": 108000, "type": "quantitative", "scale": {"type": "log", "domain": [1, 1000000], "nice": false}, "axis": {"title": "Complex viscosity/Pa.s", "values": [1,2,3,4,5,6,7,8,9,10,20,30,40,50,60,70,80,90,100,200,300,400,500,600,700,800,900,1000,2000,3000,4000,5000,6000,7000,8000,9000,10000,20000,30000,40000,50000,60000,70000,80000,90000,100000,200000,300000,400000,500000,600000,700000,800000,900000,1000000], "labelExpr": "abs(log(datum.value)/LN10-round(log(datum.value)/LN10))<0.001 ? '1E+' + round(log(datum.value)/LN10) : ''", "tickSize": {"condition": {"test": "abs(log(datum.value)/LN10-round(log(datum.value)/LN10))<0.001", "value": 4}, "value": -3}}},
          "text": {"field": "lab"}}}
      ]
    },
    {
      "width": 275, "height": 204,
      "layer": [
        {"data": {"values": [{"lab": "d"}]}, "mark": {"type": "rect", "fill": "#F7B36B", "stroke": "#A08C7A", "strokeWidth": 1}, "encoding": {
          "x": {"datum": 3.11, "type": "quantitative", "scale": {"type": "log", "domain": [0.01, 10], "nice": false}, "axis": {"title": "Frequency/Hz", "values": [0.01,0.02,0.03,0.04,0.05,0.06,0.07,0.08,0.09,0.1,0.2,0.3,0.4,0.5,0.6,0.7,0.8,0.9,1,2,3,4,5,6,7,8,9,10], "format": "~g", "labelExpr": "abs(log(datum.value)/LN10-round(log(datum.value)/LN10))<0.001 ? datum.label : ''", "tickSize": {"condition": {"test": "abs(log(datum.value)/LN10-round(log(datum.value)/LN10))<0.001", "value": 4}, "value": -3}}},
          "x2": {"datum": 8.6},
          "y": {"datum": 828000, "type": "quantitative", "scale": {"type": "log", "domain": [1, 1000000], "nice": false}, "axis": {"title": "Complex viscosity/Pa.s", "values": [1,2,3,4,5,6,7,8,9,10,20,30,40,50,60,70,80,90,100,200,300,400,500,600,700,800,900,1000,2000,3000,4000,5000,6000,7000,8000,9000,10000,20000,30000,40000,50000,60000,70000,80000,90000,100000,200000,300000,400000,500000,600000,700000,800000,900000,1000000], "labelExpr": "abs(log(datum.value)/LN10-round(log(datum.value)/LN10))<0.001 ? '1E+' + round(log(datum.value)/LN10) : ''", "tickSize": {"condition": {"test": "abs(log(datum.value)/LN10-round(log(datum.value)/LN10))<0.001", "value": 4}, "value": -3}}},
          "y2": {"datum": 108000}}},
        {
          "data": {"name": "visc"}, "transform": [{"filter": "datum.p == 'd'"}],
          "encoding": {
            "x": {"field": "f", "type": "quantitative", "scale": {"type": "log", "domain": [0.01, 10], "nice": false}, "axis": {"title": "Frequency/Hz", "values": [0.01,0.02,0.03,0.04,0.05,0.06,0.07,0.08,0.09,0.1,0.2,0.3,0.4,0.5,0.6,0.7,0.8,0.9,1,2,3,4,5,6,7,8,9,10], "format": "~g", "labelExpr": "abs(log(datum.value)/LN10-round(log(datum.value)/LN10))<0.001 ? datum.label : ''", "tickSize": {"condition": {"test": "abs(log(datum.value)/LN10-round(log(datum.value)/LN10))<0.001", "value": 4}, "value": -3}}},
            "y": {"field": "v", "type": "quantitative", "scale": {"type": "log", "domain": [1, 1000000], "nice": false}, "axis": {"title": "Complex viscosity/Pa.s", "values": [1,2,3,4,5,6,7,8,9,10,20,30,40,50,60,70,80,90,100,200,300,400,500,600,700,800,900,1000,2000,3000,4000,5000,6000,7000,8000,9000,10000,20000,30000,40000,50000,60000,70000,80000,90000,100000,200000,300000,400000,500000,600000,700000,800000,900000,1000000], "labelExpr": "abs(log(datum.value)/LN10-round(log(datum.value)/LN10))<0.001 ? '1E+' + round(log(datum.value)/LN10) : ''", "tickSize": {"condition": {"test": "abs(log(datum.value)/LN10-round(log(datum.value)/LN10))<0.001", "value": 4}, "value": -3}}},
            "color": {"field": "t", "type": "nominal", "scale": {"domain": [30,40,50,60,70,80], "range": ["#444444","#f02828","#0a64e6","#0aa064","#c070e0","#e0a000"]}, "legend": null}
          },
          "layer": [
            {"mark": {"type": "line", "strokeWidth": 1, "opacity": 0.35}},
            {"mark": {"type": "point", "filled": true, "size": 36, "opacity": 1}, "encoding": {"shape": {"field": "t", "type": "nominal", "scale": {"domain": [30,40,50,60,70,80], "range": ["square","circle","triangle-up","triangle-down","diamond","triangle-left"]}, "legend": null}}}
          ]
        },
        {"data": {"values": [{"lab": "d"}]}, "mark": {"type": "text", "fontSize": 28, "baseline": "alphabetic", "dy": -5.5, "color": "black"}, "encoding": {
          "x": {"datum": 5.17, "type": "quantitative", "scale": {"type": "log", "domain": [0.01, 10], "nice": false}, "axis": {"title": "Frequency/Hz", "values": [0.01,0.02,0.03,0.04,0.05,0.06,0.07,0.08,0.09,0.1,0.2,0.3,0.4,0.5,0.6,0.7,0.8,0.9,1,2,3,4,5,6,7,8,9,10], "format": "~g", "labelExpr": "abs(log(datum.value)/LN10-round(log(datum.value)/LN10))<0.001 ? datum.label : ''", "tickSize": {"condition": {"test": "abs(log(datum.value)/LN10-round(log(datum.value)/LN10))<0.001", "value": 4}, "value": -3}}},
          "y": {"datum": 108000, "type": "quantitative", "scale": {"type": "log", "domain": [1, 1000000], "nice": false}, "axis": {"title": "Complex viscosity/Pa.s", "values": [1,2,3,4,5,6,7,8,9,10,20,30,40,50,60,70,80,90,100,200,300,400,500,600,700,800,900,1000,2000,3000,4000,5000,6000,7000,8000,9000,10000,20000,30000,40000,50000,60000,70000,80000,90000,100000,200000,300000,400000,500000,600000,700000,800000,900000,1000000], "labelExpr": "abs(log(datum.value)/LN10-round(log(datum.value)/LN10))<0.001 ? '1E+' + round(log(datum.value)/LN10) : ''", "tickSize": {"condition": {"test": "abs(log(datum.value)/LN10-round(log(datum.value)/LN10))<0.001", "value": 4}, "value": -3}}},
          "text": {"field": "lab"}}}
      ]
    },
    {
      "width": 275, "height": 204,
      "layer": [
        {"data": {"values": [{"lab": "e"}]}, "mark": {"type": "rect", "fill": "#F7B36B", "stroke": "#A08C7A", "strokeWidth": 1}, "encoding": {
          "x": {"datum": 3.11, "type": "quantitative", "scale": {"type": "log", "domain": [0.01, 10], "nice": false}, "axis": {"title": "Frequency/Hz", "values": [0.01,0.02,0.03,0.04,0.05,0.06,0.07,0.08,0.09,0.1,0.2,0.3,0.4,0.5,0.6,0.7,0.8,0.9,1,2,3,4,5,6,7,8,9,10], "format": "~g", "labelExpr": "abs(log(datum.value)/LN10-round(log(datum.value)/LN10))<0.001 ? datum.label : ''", "tickSize": {"condition": {"test": "abs(log(datum.value)/LN10-round(log(datum.value)/LN10))<0.001", "value": 4}, "value": -3}}},
          "x2": {"datum": 8.6},
          "y": {"datum": 828000, "type": "quantitative", "scale": {"type": "log", "domain": [1, 1000000], "nice": false}, "axis": {"title": "Complex viscosity/Pa.s", "values": [1,2,3,4,5,6,7,8,9,10,20,30,40,50,60,70,80,90,100,200,300,400,500,600,700,800,900,1000,2000,3000,4000,5000,6000,7000,8000,9000,10000,20000,30000,40000,50000,60000,70000,80000,90000,100000,200000,300000,400000,500000,600000,700000,800000,900000,1000000], "labelExpr": "abs(log(datum.value)/LN10-round(log(datum.value)/LN10))<0.001 ? '1E+' + round(log(datum.value)/LN10) : ''", "tickSize": {"condition": {"test": "abs(log(datum.value)/LN10-round(log(datum.value)/LN10))<0.001", "value": 4}, "value": -3}}},
          "y2": {"datum": 108000}}},
        {
          "data": {"name": "visc"}, "transform": [{"filter": "datum.p == 'e'"}],
          "encoding": {
            "x": {"field": "f", "type": "quantitative", "scale": {"type": "log", "domain": [0.01, 10], "nice": false}, "axis": {"title": "Frequency/Hz", "values": [0.01,0.02,0.03,0.04,0.05,0.06,0.07,0.08,0.09,0.1,0.2,0.3,0.4,0.5,0.6,0.7,0.8,0.9,1,2,3,4,5,6,7,8,9,10], "format": "~g", "labelExpr": "abs(log(datum.value)/LN10-round(log(datum.value)/LN10))<0.001 ? datum.label : ''", "tickSize": {"condition": {"test": "abs(log(datum.value)/LN10-round(log(datum.value)/LN10))<0.001", "value": 4}, "value": -3}}},
            "y": {"field": "v", "type": "quantitative", "scale": {"type": "log", "domain": [1, 1000000], "nice": false}, "axis": {"title": "Complex viscosity/Pa.s", "values": [1,2,3,4,5,6,7,8,9,10,20,30,40,50,60,70,80,90,100,200,300,400,500,600,700,800,900,1000,2000,3000,4000,5000,6000,7000,8000,9000,10000,20000,30000,40000,50000,60000,70000,80000,90000,100000,200000,300000,400000,500000,600000,700000,800000,900000,1000000], "labelExpr": "abs(log(datum.value)/LN10-round(log(datum.value)/LN10))<0.001 ? '1E+' + round(log(datum.value)/LN10) : ''", "tickSize": {"condition": {"test": "abs(log(datum.value)/LN10-round(log(datum.value)/LN10))<0.001", "value": 4}, "value": -3}}},
            "color": {"field": "t", "type": "nominal", "scale": {"domain": [30,40,50,60,70,80], "range": ["#444444","#f02828","#0a64e6","#0aa064","#c070e0","#e0a000"]}, "legend": null}
          },
          "layer": [
            {"mark": {"type": "line", "strokeWidth": 1, "opacity": 0.35}},
            {"mark": {"type": "point", "filled": true, "size": 36, "opacity": 1}, "encoding": {"shape": {"field": "t", "type": "nominal", "scale": {"domain": [30,40,50,60,70,80], "range": ["square","circle","triangle-up","triangle-down","diamond","triangle-left"]}, "legend": null}}}
          ]
        },
        {"data": {"values": [{"lab": "e"}]}, "mark": {"type": "text", "fontSize": 28, "baseline": "alphabetic", "dy": -5.5, "color": "black"}, "encoding": {
          "x": {"datum": 5.17, "type": "quantitative", "scale": {"type": "log", "domain": [0.01, 10], "nice": false}, "axis": {"title": "Frequency/Hz", "values": [0.01,0.02,0.03,0.04,0.05,0.06,0.07,0.08,0.09,0.1,0.2,0.3,0.4,0.5,0.6,0.7,0.8,0.9,1,2,3,4,5,6,7,8,9,10], "format": "~g", "labelExpr": "abs(log(datum.value)/LN10-round(log(datum.value)/LN10))<0.001 ? datum.label : ''", "tickSize": {"condition": {"test": "abs(log(datum.value)/LN10-round(log(datum.value)/LN10))<0.001", "value": 4}, "value": -3}}},
          "y": {"datum": 108000, "type": "quantitative", "scale": {"type": "log", "domain": [1, 1000000], "nice": false}, "axis": {"title": "Complex viscosity/Pa.s", "values": [1,2,3,4,5,6,7,8,9,10,20,30,40,50,60,70,80,90,100,200,300,400,500,600,700,800,900,1000,2000,3000,4000,5000,6000,7000,8000,9000,10000,20000,30000,40000,50000,60000,70000,80000,90000,100000,200000,300000,400000,500000,600000,700000,800000,900000,1000000], "labelExpr": "abs(log(datum.value)/LN10-round(log(datum.value)/LN10))<0.001 ? '1E+' + round(log(datum.value)/LN10) : ''", "tickSize": {"condition": {"test": "abs(log(datum.value)/LN10-round(log(datum.value)/LN10))<0.001", "value": 4}, "value": -3}}},
          "text": {"field": "lab"}}}
      ]
    },
    {
      "width": 275, "height": 204,
      "layer": [
        {"data": {"values": [{"lab": "f"}]}, "mark": {"type": "rect", "fill": "#F7B36B", "stroke": "#A08C7A", "strokeWidth": 1}, "encoding": {
          "x": {"datum": 3.11, "type": "quantitative", "scale": {"type": "log", "domain": [0.01, 10], "nice": false}, "axis": {"title": "Frequency/Hz", "values": [0.01,0.02,0.03,0.04,0.05,0.06,0.07,0.08,0.09,0.1,0.2,0.3,0.4,0.5,0.6,0.7,0.8,0.9,1,2,3,4,5,6,7,8,9,10], "format": "~g", "labelExpr": "abs(log(datum.value)/LN10-round(log(datum.value)/LN10))<0.001 ? datum.label : ''", "tickSize": {"condition": {"test": "abs(log(datum.value)/LN10-round(log(datum.value)/LN10))<0.001", "value": 4}, "value": -3}}},
          "x2": {"datum": 8.6},
          "y": {"datum": 828000, "type": "quantitative", "scale": {"type": "log", "domain": [1, 1000000], "nice": false}, "axis": {"title": "Complex viscosity/Pa.s", "values": [1,2,3,4,5,6,7,8,9,10,20,30,40,50,60,70,80,90,100,200,300,400,500,600,700,800,900,1000,2000,3000,4000,5000,6000,7000,8000,9000,10000,20000,30000,40000,50000,60000,70000,80000,90000,100000,200000,300000,400000,500000,600000,700000,800000,900000,1000000], "labelExpr": "abs(log(datum.value)/LN10-round(log(datum.value)/LN10))<0.001 ? '1E+' + round(log(datum.value)/LN10) : ''", "tickSize": {"condition": {"test": "abs(log(datum.value)/LN10-round(log(datum.value)/LN10))<0.001", "value": 4}, "value": -3}}},
          "y2": {"datum": 108000}}},
        {
          "data": {"name": "visc"}, "transform": [{"filter": "datum.p == 'f'"}],
          "encoding": {
            "x": {"field": "f", "type": "quantitative", "scale": {"type": "log", "domain": [0.01, 10], "nice": false}, "axis": {"title": "Frequency/Hz", "values": [0.01,0.02,0.03,0.04,0.05,0.06,0.07,0.08,0.09,0.1,0.2,0.3,0.4,0.5,0.6,0.7,0.8,0.9,1,2,3,4,5,6,7,8,9,10], "format": "~g", "labelExpr": "abs(log(datum.value)/LN10-round(log(datum.value)/LN10))<0.001 ? datum.label : ''", "tickSize": {"condition": {"test": "abs(log(datum.value)/LN10-round(log(datum.value)/LN10))<0.001", "value": 4}, "value": -3}}},
            "y": {"field": "v", "type": "quantitative", "scale": {"type": "log", "domain": [1, 1000000], "nice": false}, "axis": {"title": "Complex viscosity/Pa.s", "values": [1,2,3,4,5,6,7,8,9,10,20,30,40,50,60,70,80,90,100,200,300,400,500,600,700,800,900,1000,2000,3000,4000,5000,6000,7000,8000,9000,10000,20000,30000,40000,50000,60000,70000,80000,90000,100000,200000,300000,400000,500000,600000,700000,800000,900000,1000000], "labelExpr": "abs(log(datum.value)/LN10-round(log(datum.value)/LN10))<0.001 ? '1E+' + round(log(datum.value)/LN10) : ''", "tickSize": {"condition": {"test": "abs(log(datum.value)/LN10-round(log(datum.value)/LN10))<0.001", "value": 4}, "value": -3}}},
            "color": {"field": "t", "type": "nominal", "scale": {"domain": [30,40,50,60,70,80], "range": ["#444444","#f02828","#0a64e6","#0aa064","#c070e0","#e0a000"]}, "legend": null}
          },
          "layer": [
            {"mark": {"type": "line", "strokeWidth": 1, "opacity": 0.35}},
            {"mark": {"type": "point", "filled": true, "size": 36, "opacity": 1}, "encoding": {"shape": {"field": "t", "type": "nominal", "scale": {"domain": [30,40,50,60,70,80], "range": ["square","circle","triangle-up","triangle-down","diamond","triangle-left"]}, "legend": null}}}
          ]
        },
        {"data": {"values": [{"lab": "f"}]}, "mark": {"type": "text", "fontSize": 28, "baseline": "alphabetic", "dy": -5.5, "color": "black"}, "encoding": {
          "x": {"datum": 5.17, "type": "quantitative", "scale": {"type": "log", "domain": [0.01, 10], "nice": false}, "axis": {"title": "Frequency/Hz", "values": [0.01,0.02,0.03,0.04,0.05,0.06,0.07,0.08,0.09,0.1,0.2,0.3,0.4,0.5,0.6,0.7,0.8,0.9,1,2,3,4,5,6,7,8,9,10], "format": "~g", "labelExpr": "abs(log(datum.value)/LN10-round(log(datum.value)/LN10))<0.001 ? datum.label : ''", "tickSize": {"condition": {"test": "abs(log(datum.value)/LN10-round(log(datum.value)/LN10))<0.001", "value": 4}, "value": -3}}},
          "y": {"datum": 108000, "type": "quantitative", "scale": {"type": "log", "domain": [1, 1000000], "nice": false}, "axis": {"title": "Complex viscosity/Pa.s", "values": [1,2,3,4,5,6,7,8,9,10,20,30,40,50,60,70,80,90,100,200,300,400,500,600,700,800,900,1000,2000,3000,4000,5000,6000,7000,8000,9000,10000,20000,30000,40000,50000,60000,70000,80000,90000,100000,200000,300000,400000,500000,600000,700000,800000,900000,1000000], "labelExpr": "abs(log(datum.value)/LN10-round(log(datum.value)/LN10))<0.001 ? '1E+' + round(log(datum.value)/LN10) : ''", "tickSize": {"condition": {"test": "abs(log(datum.value)/LN10-round(log(datum.value)/LN10))<0.001", "value": 4}, "value": -3}}},
          "text": {"field": "lab"}}}
      ]
    },
    {
      "width": 275, "height": 204,
      "view": {"stroke": null},
      "data": {"values": [{"z": 0}]},
      "mark": {"type": "point", "opacity": 0},
      "encoding": {}
    },
    {
      "width": 275, "height": 204,
      "layer": [
        {"data": {"values": [{"lab": "g"}]}, "mark": {"type": "rect", "fill": "#F7B36B", "stroke": "#A08C7A", "strokeWidth": 1}, "encoding": {
          "x": {"datum": 3.11, "type": "quantitative", "scale": {"type": "log", "domain": [0.01, 10], "nice": false}, "axis": {"title": "Frequency/Hz", "values": [0.01,0.02,0.03,0.04,0.05,0.06,0.07,0.08,0.09,0.1,0.2,0.3,0.4,0.5,0.6,0.7,0.8,0.9,1,2,3,4,5,6,7,8,9,10], "format": "~g", "labelExpr": "abs(log(datum.value)/LN10-round(log(datum.value)/LN10))<0.001 ? datum.label : ''", "tickSize": {"condition": {"test": "abs(log(datum.value)/LN10-round(log(datum.value)/LN10))<0.001", "value": 4}, "value": -3}}},
          "x2": {"datum": 8.6},
          "y": {"datum": 79800, "type": "quantitative", "scale": {"type": "log", "domain": [1, 100000], "nice": false}, "axis": {"title": "Complex viscosity/Pa.s", "values": [1,2,3,4,5,6,7,8,9,10,20,30,40,50,60,70,80,90,100,200,300,400,500,600,700,800,900,1000,2000,3000,4000,5000,6000,7000,8000,9000,10000,20000,30000,40000,50000,60000,70000,80000,90000,100000], "labelExpr": "abs(log(datum.value)/LN10-round(log(datum.value)/LN10))<0.001 ? '1E+' + round(log(datum.value)/LN10) : ''", "tickSize": {"condition": {"test": "abs(log(datum.value)/LN10-round(log(datum.value)/LN10))<0.001", "value": 4}, "value": -3}}},
          "y2": {"datum": 14700}}},
        {
          "data": {"name": "visc"}, "transform": [{"filter": "datum.p == 'g'"}],
          "encoding": {
            "x": {"field": "f", "type": "quantitative", "scale": {"type": "log", "domain": [0.01, 10], "nice": false}, "axis": {"title": "Frequency/Hz", "values": [0.01,0.02,0.03,0.04,0.05,0.06,0.07,0.08,0.09,0.1,0.2,0.3,0.4,0.5,0.6,0.7,0.8,0.9,1,2,3,4,5,6,7,8,9,10], "format": "~g", "labelExpr": "abs(log(datum.value)/LN10-round(log(datum.value)/LN10))<0.001 ? datum.label : ''", "tickSize": {"condition": {"test": "abs(log(datum.value)/LN10-round(log(datum.value)/LN10))<0.001", "value": 4}, "value": -3}}},
            "y": {"field": "v", "type": "quantitative", "scale": {"type": "log", "domain": [1, 100000], "nice": false}, "axis": {"title": "Complex viscosity/Pa.s", "values": [1,2,3,4,5,6,7,8,9,10,20,30,40,50,60,70,80,90,100,200,300,400,500,600,700,800,900,1000,2000,3000,4000,5000,6000,7000,8000,9000,10000,20000,30000,40000,50000,60000,70000,80000,90000,100000], "labelExpr": "abs(log(datum.value)/LN10-round(log(datum.value)/LN10))<0.001 ? '1E+' + round(log(datum.value)/LN10) : ''", "tickSize": {"condition": {"test": "abs(log(datum.value)/LN10-round(log(datum.value)/LN10))<0.001", "value": 4}, "value": -3}}},
            "color": {"field": "t", "type": "nominal", "scale": {"domain": [30,40,50,60,70,80], "range": ["#444444","#f02828","#0a64e6","#0aa064","#c070e0","#e0a000"]}, "legend": null}
          },
          "layer": [
            {"mark": {"type": "line", "strokeWidth": 1, "opacity": 0.35}},
            {"mark": {"type": "point", "filled": true, "size": 36, "opacity": 1}, "encoding": {"shape": {"field": "t", "type": "nominal", "scale": {"domain": [30,40,50,60,70,80], "range": ["square","circle","triangle-up","triangle-down","diamond","triangle-left"]}, "legend": null}}}
          ]
        },
        {"data": {"values": [{"lab": "g"}]}, "mark": {"type": "text", "fontSize": 28, "baseline": "alphabetic", "dy": -5.5, "color": "black"}, "encoding": {
          "x": {"datum": 5.17, "type": "quantitative", "scale": {"type": "log", "domain": [0.01, 10], "nice": false}, "axis": {"title": "Frequency/Hz", "values": [0.01,0.02,0.03,0.04,0.05,0.06,0.07,0.08,0.09,0.1,0.2,0.3,0.4,0.5,0.6,0.7,0.8,0.9,1,2,3,4,5,6,7,8,9,10], "format": "~g", "labelExpr": "abs(log(datum.value)/LN10-round(log(datum.value)/LN10))<0.001 ? datum.label : ''", "tickSize": {"condition": {"test": "abs(log(datum.value)/LN10-round(log(datum.value)/LN10))<0.001", "value": 4}, "value": -3}}},
          "y": {"datum": 14700, "type": "quantitative", "scale": {"type": "log", "domain": [1, 100000], "nice": false}, "axis": {"title": "Complex viscosity/Pa.s", "values": [1,2,3,4,5,6,7,8,9,10,20,30,40,50,60,70,80,90,100,200,300,400,500,600,700,800,900,1000,2000,3000,4000,5000,6000,7000,8000,9000,10000,20000,30000,40000,50000,60000,70000,80000,90000,100000], "labelExpr": "abs(log(datum.value)/LN10-round(log(datum.value)/LN10))<0.001 ? '1E+' + round(log(datum.value)/LN10) : ''", "tickSize": {"condition": {"test": "abs(log(datum.value)/LN10-round(log(datum.value)/LN10))<0.001", "value": 4}, "value": -3}}},
          "text": {"field": "lab"}}}
      ]
    },
    {
      "width": 275, "height": 195,
      "view": {"stroke": null},
      "data": {"values": [{"t": 30, "lab": "30℃"}, {"t": 40, "lab": "40℃"}, {"t": 50, "lab": "50℃"}, {"t": 60, "lab": "60℃"}, {"t": 70, "lab": "70℃"}, {"t": 80, "lab": "80℃"}]},
      "layer": [
        {"transform": [{"filter": "datum.t == 30"}], "mark": {"type": "rect", "fill": "white", "stroke": "#d9d9d9", "strokeWidth": 1}, "encoding": {"x": {"datum": 0, "scale": {"type": "linear", "domain": [0.446, 2.432], "nice": false, "zero": false}, "axis": null}, "x2": {"datum": 1}}},
        {"mark": {"type": "rule", "strokeWidth": 1.5, "opacity": 0.35}, "encoding": {"x": {"datum": 0.022}, "x2": {"datum": 0.441}, "y": {"field": "t", "type": "nominal", "scale": {"type": "point", "padding": 0.566}, "axis": null}, "color": {"field": "t", "type": "nominal", "legend": null}}},
        {"mark": {"type": "point", "filled": true, "size": 36, "opacity": 1}, "encoding": {"x": {"datum": 0.232}, "y": {"field": "t", "type": "nominal"}, "color": {"field": "t", "type": "nominal", "legend": null}, "shape": {"field": "t", "type": "nominal", "legend": null}}},
        {"mark": {"type": "text", "fontSize": 28, "align": "left", "baseline": "middle", "color": "black"}, "encoding": {"x": {"datum": 0.554}, "y": {"field": "t", "type": "nominal"}, "text": {"field": "lab"}}}
      ]
    }
  ]
}
